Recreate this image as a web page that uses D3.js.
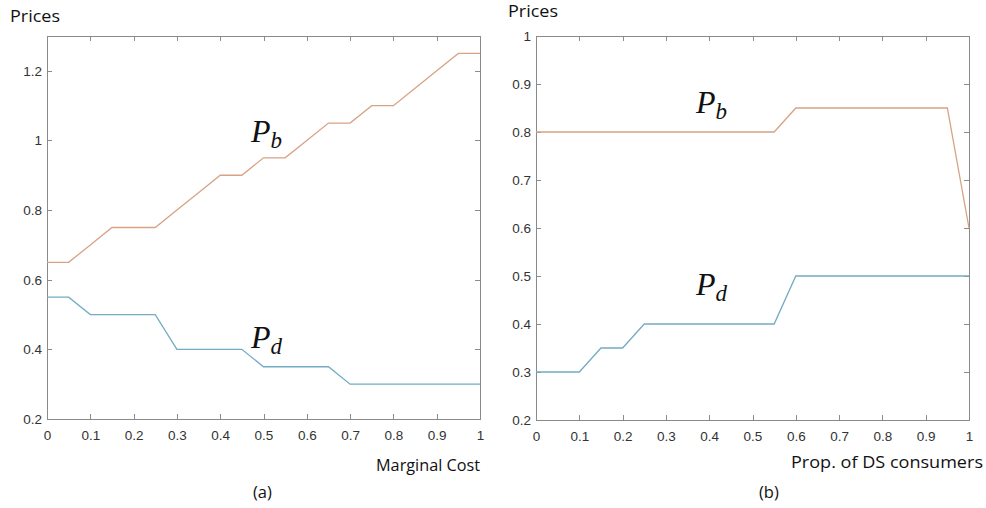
<!DOCTYPE html>
<meta charset="utf-8">
<style>
body { margin: 0; background: #fff; }
svg { display: block; }
.axis path, .axis line { fill: none; stroke: #8a8a8a; stroke-width: 1; shape-rendering: crispEdges; }
.axis text { font-family: "Liberation Sans", Arial, sans-serif; font-size: 13.5px; fill: #333; }
.lbl { font-family: "Open Sans", sans-serif; font-size: 16.5px; fill: #111; }
.sym { font-family: "Liberation Serif", serif; font-style: italic; fill: #111; }
</style>
<body>
<svg width="986" height="508"></svg>
<script src="https://d3js.org/d3.v7.min.js"></script>
<script>

// x positions shared by both panels
var xs = [0, 0.05, 0.1, 0.15, 0.2, 0.25, 0.3, 0.35, 0.4, 0.45, 0.5, 0.55, 0.6, 0.65, 0.7, 0.75, 0.8, 0.85, 0.9, 0.95, 1];

// panel (a): prices vs marginal cost
var pbA = [0.65, 0.65, 0.7, 0.75, 0.75, 0.75, 0.8, 0.85, 0.9, 0.9, 0.95, 0.95, 1.0, 1.05, 1.05, 1.1, 1.1, 1.15, 1.2, 1.25, 1.25];
var pdA = [0.55, 0.55, 0.5, 0.5, 0.5, 0.5, 0.4, 0.4, 0.4, 0.4, 0.35, 0.35, 0.35, 0.35, 0.3, 0.3, 0.3, 0.3, 0.3, 0.3, 0.3];

// panel (b): prices vs proportion of DS consumers
var pbB = [0.8, 0.8, 0.8, 0.8, 0.8, 0.8, 0.8, 0.8, 0.8, 0.8, 0.8, 0.8, 0.85, 0.85, 0.85, 0.85, 0.85, 0.85, 0.85, 0.85, 0.6];
var pdB = [0.3, 0.3, 0.3, 0.35, 0.35, 0.4, 0.4, 0.4, 0.4, 0.4, 0.4, 0.4, 0.5, 0.5, 0.5, 0.5, 0.5, 0.5, 0.5, 0.5, 0.5];

var xTicks = [0, 0.1, 0.2, 0.3, 0.4, 0.5, 0.6, 0.7, 0.8, 0.9, 1];
var yTicksA = [0.2, 0.4, 0.6, 0.8, 1, 1.2];
var yTicksB = [0.2, 0.3, 0.4, 0.5, 0.6, 0.7, 0.8, 0.9, 1];

var orange = "#d6a385", blue = "#74abc3";
var svg = d3.select("svg");

function panel(opt) {
    var x = d3.scaleLinear().domain([0, 1]).range([opt.left, opt.right]);
    var y = d3.scaleLinear().domain(opt.ydom).range([opt.bottom, opt.top]);
    var fmt = d3.format("~g");
    var g = svg.append("g");

    g.append("g").attr("class", "axis")
        .attr("transform", "translate(0," + opt.bottom + ")")
        .call(d3.axisBottom(x).tickValues(xTicks).tickFormat(fmt).tickSizeInner(-5).tickSizeOuter(0).tickPadding(11));
    g.append("g").attr("class", "axis")
        .attr("transform", "translate(0," + opt.top + ")")
        .call(d3.axisTop(x).tickValues(xTicks).tickFormat("").tickSizeInner(-5).tickSizeOuter(0));
    g.append("g").attr("class", "axis")
        .attr("transform", "translate(" + opt.left + ",0)")
        .call(d3.axisLeft(y).tickValues(opt.yticks).tickFormat(fmt).tickSizeInner(-5).tickSizeOuter(0).tickPadding(5));
    g.append("g").attr("class", "axis")
        .attr("transform", "translate(" + opt.right + ",0)")
        .call(d3.axisRight(y).tickValues(opt.yticks).tickFormat("").tickSizeInner(-5).tickSizeOuter(0));

    var line = d3.line()
        .x(function(d, i) { return x(xs[i]); })
        .y(function(d) { return y(d); });

    g.append("path").datum(opt.pb)
        .attr("fill", "none").attr("stroke", orange).attr("stroke-width", 1.3)
        .attr("d", line);
    g.append("path").datum(opt.pd)
        .attr("fill", "none").attr("stroke", blue).attr("stroke-width", 1.3)
        .attr("d", line);

    g.append("text").attr("class", "lbl").attr("x", opt.titleX).attr("y", opt.titleY)
        .attr("textLength", 50).attr("lengthAdjust", "spacingAndGlyphs").text("Prices");
    g.append("text").attr("class", "lbl").attr("x", opt.xlabX).attr("y", opt.xlabY)
        .attr("textLength", opt.xlabW).attr("lengthAdjust", "spacingAndGlyphs").text(opt.xlab);
    g.append("text").attr("class", "lbl").attr("x", opt.capX).attr("y", 498).attr("font-size", "14.5px").text(opt.cap);

    opt.syms.forEach(function(s) {
        var t = g.append("text").attr("class", "sym").attr("x", s.x).attr("y", s.y).attr("font-size", "32px");
        t.append("tspan").text("P");
        t.append("tspan").attr("font-size", "23px").attr("dy", 6).text(s.sub);
    });
}

panel({
    left: 47, right: 480, top: 36, bottom: 419,
    ydom: [0.2, 1.3], yticks: yTicksA, pb: pbA, pd: pdA,
    titleX: 10, titleY: 22, xlab: "Marginal Cost", xlabX: 376, xlabY: 471, xlabW: 104,
    cap: "(a)", capX: 253,
    syms: [{x: 251, y: 142, sub: "b"}, {x: 251, y: 348, sub: "d"}]
});

panel({
    left: 536, right: 969, top: 36, bottom: 420,
    ydom: [0.2, 1], yticks: yTicksB, pb: pbB, pd: pdB,
    titleX: 508, titleY: 17, xlab: "Prop. of DS consumers", xlabX: 791, xlabY: 468, xlabW: 192,
    cap: "(b)", capX: 759,
    syms: [{x: 696, y: 113, sub: "b"}, {x: 696, y: 295, sub: "d"}]
});

</script>
